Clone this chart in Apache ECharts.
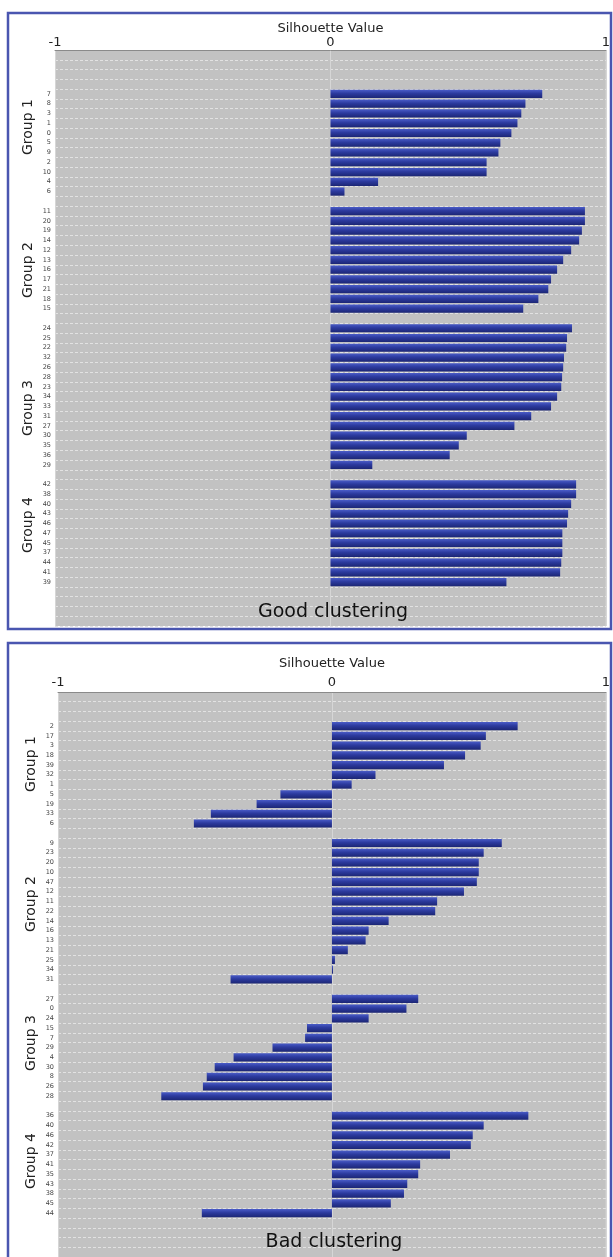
<!DOCTYPE html>
<html>
<head>
<meta charset="utf-8">
<script src="https://cdn.jsdelivr.net/npm/echarts@6/dist/echarts.min.js"></script>
<style>html,body{margin:0;padding:0;background:#fff}#c{width:613px;height:1257px}</style>
</head>
<body>
<div id="c"></div>
<script>
// ---- Good clustering (top) ----
const goodG1Labels = ['7','8','3','1','0','5','9','2','10','4','6'];
const goodG1Values = [0.769,0.708,0.693,0.679,0.657,0.617,0.610,0.567,0.567,0.173,0.051];
const goodG2Labels = ['11','20','19','14','12','13','16','17','21','18','15'];
const goodG2Values = [0.924,0.924,0.913,0.903,0.874,0.845,0.823,0.801,0.791,0.755,0.700];
const goodG3Labels = ['24','25','22','32','26','28','23','34','33','31','27','30','35','36','29'];
const goodG3Values = [0.877,0.859,0.856,0.848,0.845,0.841,0.838,0.823,0.801,0.729,0.668,0.495,0.466,0.433,0.152];
const goodG4Labels = ['42','38','40','43','46','47','45','37','44','41','39'];
const goodG4Values = [0.892,0.892,0.874,0.863,0.859,0.842,0.842,0.842,0.838,0.834,0.639];

// ---- Bad clustering (bottom) ----
const badG1Labels = ['2','17','3','18','39','32','1','5','19','33','6'];
const badG1Values = [0.678,0.562,0.543,0.486,0.409,0.159,0.072,-0.188,-0.275,-0.442,-0.504];
const badG2Labels = ['9','23','20','10','47','12','11','22','14','16','13','21','25','34','31'];
const badG2Values = [0.620,0.554,0.536,0.536,0.529,0.482,0.384,0.377,0.207,0.134,0.123,0.058,0.011,0.004,-0.370];
const badG3Labels = ['27','0','24','15','7','29','4','30','8','26','28'];
const badG3Values = [0.315,0.272,0.134,-0.091,-0.098,-0.217,-0.359,-0.428,-0.457,-0.471,-0.623];
const badG4Labels = ['36','40','46','42','37','41','35','43','38','45','44'];
const badG4Values = [0.717,0.554,0.514,0.507,0.431,0.322,0.315,0.275,0.263,0.215,-0.475];

const groupNames = ['Group 1','Group 2','Group 3','Group 4'];
const xTicks = [-1, 0, 1];
const axisTitle = 'Silhouette Value';
const captions = ['Good clustering', 'Bad clustering'];

function build(groupsL, groupsV, padTop, padBottom) {
  const cats = [], vals = [];
  for (let i = 0; i < padTop; i++) { cats.push(''); vals.push('-'); }
  groupsL.forEach((labels, g) => {
    if (g > 0) { cats.push(''); vals.push('-'); }
    labels.forEach((l, k) => { cats.push(l); vals.push(groupsV[g][k]); });
  });
  for (let i = 0; i < padBottom; i++) { cats.push(''); vals.push('-'); }
  return { cats, vals };
}
const good = build([goodG1Labels,goodG2Labels,goodG3Labels,goodG4Labels],
                   [goodG1Values,goodG2Values,goodG3Values,goodG4Values], 4, 4);
const bad = build([badG1Labels,badG2Labels,badG3Labels,badG4Labels],
                  [badG1Values,badG2Values,badG3Values,badG4Values], 3, 4);

const FONT = 'DejaVu Sans';
const barColor = new echarts.graphic.LinearGradient(0,0,0,1,[
  {offset:0,color:'#4a5cc8'},{offset:0.45,color:'#2c3a9e'},{offset:1,color:'#1c2675'}]);

function xAxis(gi, nameGap, margin) {
  return {
    gridIndex: gi, type: 'value', position: 'top', min: -1, max: 1, interval: 1,
    name: axisTitle, nameLocation: 'middle', nameGap: nameGap,
    nameTextStyle: { fontFamily: FONT, fontSize: 13, color: '#222' },
    axisLine: { show: true, onZero: false, lineStyle: { color: '#8a8a8a', width: 1 } },
    axisTick: { show: false },
    axisLabel: { fontFamily: FONT, fontSize: 13, color: '#222', margin: margin,
      formatter: v => xTicks.includes(v) ? String(v) : '' },
    splitLine: { show: true, lineStyle: { color: '#d6d6d6', width: 1 } }
  };
}
function yAxis(gi, cats) {
  return {
    gridIndex: gi, type: 'category', data: cats, inverse: true,
    axisLine: { show: false }, axisTick: { show: false },
    axisLabel: { fontFamily: FONT, fontSize: 6.5, color: '#444', margin: 4, interval: 0 },
    splitLine: { show: true, interval: 0, lineStyle: { color: '#e2e2e2', type: [3,2], width: 1 } }
  };
}
function barSeries(i, vals) {
  return {
    type: 'bar', xAxisIndex: i, yAxisIndex: i, data: vals,
    barCategoryGap: '16%', itemStyle: { color: barColor }, silent: true
  };
}

function groupText(x, y, t) {
  return { type: 'text', x: x, y: y, rotation: Math.PI / 2, z: 10,
    style: { text: t, fontFamily: FONT, fontSize: 14, fill: '#222',
      align: 'center', verticalAlign: 'middle' } };
}

const graphics = [
  { type: 'rect', shape: { x: 8, y: 13, width: 603, height: 616 }, z: 20,
    style: { fill: 'none', stroke: '#4a56b0', lineWidth: 2.5 } },
  { type: 'rect', shape: { x: 8, y: 643, width: 603, height: 630 }, z: 20,
    style: { fill: 'none', stroke: '#4a56b0', lineWidth: 2.5 } },
  groupText(28, 127, groupNames[0]), groupText(28, 270, groupNames[1]),
  groupText(28, 408, groupNames[2]), groupText(28, 525, groupNames[3]),
  groupText(31, 764, groupNames[0]), groupText(31, 904, groupNames[1]),
  groupText(31, 1043, groupNames[2]), groupText(31, 1161, groupNames[3]),
  { type: 'text', x: 333, y: 612, z: 10,
    style: { text: captions[0], fontFamily: FONT, fontSize: 19, fill: '#111', align: 'center', verticalAlign: 'middle' } },
  { type: 'text', x: 334, y: 1242, z: 10,
    style: { text: captions[1], fontFamily: FONT, fontSize: 19, fill: '#111', align: 'center', verticalAlign: 'middle' } }
];

const chart = echarts.init(document.getElementById('c'), null, { renderer: 'canvas' });
chart.setOption({
  animation: false,
  backgroundColor: '#ffffff',
  grid: [
    { left: 55, right: 4, top: 50, height: 576, show: true, backgroundColor: '#c2c2c2', borderWidth: 0, containLabel: false },
    { left: 58, right: 3, top: 692, height: 565, show: true, backgroundColor: '#c2c2c2', borderWidth: 0, containLabel: false }
  ],
  xAxis: [xAxis(0, 14, 1), xAxis(1, 22, 3)],
  yAxis: [yAxis(0, good.cats), yAxis(1, bad.cats)],
  series: [barSeries(0, good.vals), barSeries(1, bad.vals)],
  graphic: graphics
});
</script>
</body>
</html>
